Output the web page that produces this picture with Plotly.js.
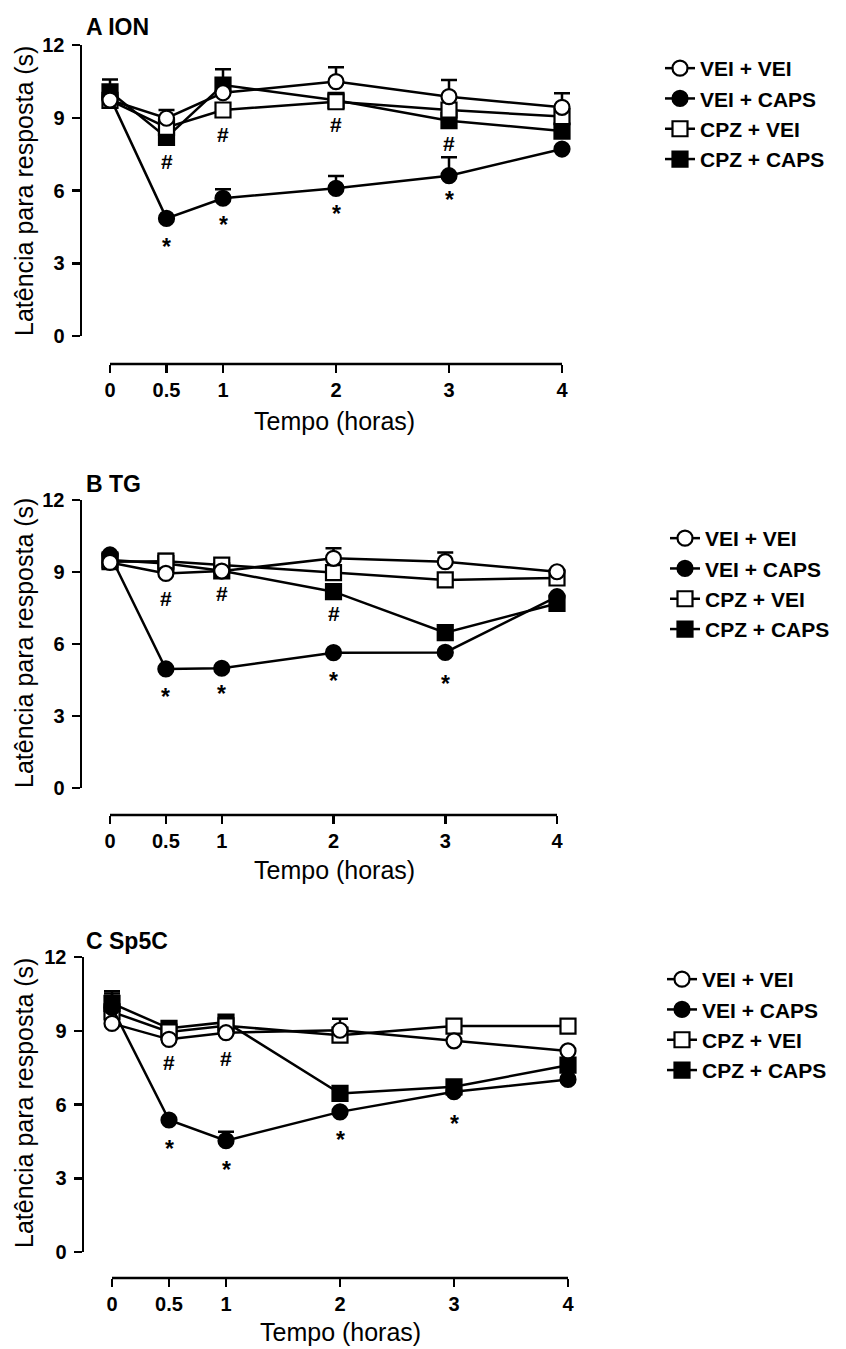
<!DOCTYPE html>
<html>
<head>
<meta charset="utf-8">
<script src="https://cdn.plot.ly/plotly-3.0.1.min.js"></script>
<style>html,body{margin:0;padding:0;background:#fff;}#chart{width:846px;height:1349px;}</style>
</head>
<body>
<div id="chart"></div>
<script>
// ---------- DATA ----------
const times = [0, 0.5, 1, 2, 3, 4];
const tickLabels = ['0', '0.5', '1', '2', '3', '4'];
const yTicks = [0, 3, 6, 9, 12];
const seriesNames = ['VEI + VEI', 'VEI + CAPS', 'CPZ + VEI', 'CPZ + CAPS'];
const panelTitles = ['A ION', 'B TG', 'C Sp5C'];
const xTitle = 'Tempo (horas)';
const yTitle = 'Latência para resposta (s)';

// Panel A - ION
const ionVeiVei = [9.73, 8.98, 10.03, 10.49, 9.87, 9.43];
const ionVeiVeiErr = [0, 0.34, 0, 0.59, 0.69, 0.58];
const ionVeiCaps = [9.85, 4.85, 5.68, 6.09, 6.61, 7.71];
const ionVeiCapsErr = [0, 0, 0.37, 0.51, 0.76, 0];
const ionCpzVei = [9.72, 8.6, 9.32, 9.66, 9.32, 9.05];
const ionCpzVeiErr = [0, 0, 0, 0, 0, 0];
const ionCpzCaps = [10.07, 8.19, 10.35, 9.72, 8.88, 8.45];
const ionCpzCapsErr = [0.51, 0, 0.65, 0, 0, 0];
const ionHashX = [0.5, 1, 2, 3];
const ionHashY = [7.26, 8.38, 8.8, 8.01];
const ionStarX = [0.5, 1, 2, 3];
const ionStarY = [3.93, 4.81, 5.26, 5.86];

// Panel B - TG
const tgVeiVei = [9.4, 8.94, 9.04, 9.57, 9.43, 9.01];
const tgVeiVeiErr = [0, 0, 0, 0.42, 0.38, 0];
const tgVeiCaps = [9.71, 4.96, 4.99, 5.64, 5.65, 7.97];
const tgVeiCapsErr = [0, 0, 0, 0, 0, 0];
const tgCpzVei = [9.43, 9.45, 9.29, 8.97, 8.67, 8.75];
const tgCpzVeiErr = [0, 0.3, 0, 0, 0, 0];
const tgCpzCaps = [9.5, 9.35, 9.05, 8.18, 6.47, 7.69];
const tgCpzCapsErr = [0, 0, 0, 0, 0, 0];
const tgHashX = [0.5, 1, 2];
const tgHashY = [7.97, 8.18, 7.35];
const tgStarX = [0.5, 1, 2, 3];
const tgStarY = [4.05, 4.15, 4.71, 4.57];

// Panel C - Sp5C
const spVeiVei = [9.3, 8.65, 8.92, 9.02, 8.59, 8.18];
const spVeiVeiErr = [0, 0, 0, 0.47, 0, 0];
const spVeiCaps = [9.95, 5.37, 4.53, 5.7, 6.52, 7.02];
const spVeiCapsErr = [0, 0, 0.36, 0, 0, 0];
const spCpzVei = [9.77, 8.95, 9.2, 8.82, 9.19, 9.19];
const spCpzVeiErr = [0.75, 0, 0, 0, 0, 0];
const spCpzCaps = [10.11, 9.1, 9.35, 6.45, 6.72, 7.6];
const spCpzCapsErr = [0.5, 0, 0.15, 0, 0, 0];
const spHashX = [0.5, 1];
const spHashY = [7.8, 7.94];
const spStarX = [0.5, 1, 2, 3];
const spStarY = [4.42, 3.6, 4.82, 5.46];

// ---------- LAYOUT HELPERS ----------
const W = 846, H = 1349;
const FONT = 'Liberation Sans, Arial, Helvetica, sans-serif';
const fx = px => px / W;
const fy = py => 1 - py / H;

const panels = [
  {series: [ionVeiVei, ionVeiCaps, ionCpzVei, ionCpzCaps], errs: [ionVeiVeiErr, ionVeiCapsErr, ionCpzVeiErr, ionCpzCapsErr],
   hashX: ionHashX, hashY: ionHashY, starX: ionStarX, starY: ionStarY,
   px: {yAx: 82, x0: 110, x4: 562, top: 45, bot: 336, xLine: 364, title: 27, xTitle: 421, xTitleX: 334, yTitle: 191, leg: 67, legX: 660}},
  {series: [tgVeiVei, tgVeiCaps, tgCpzVei, tgCpzCaps], errs: [tgVeiVeiErr, tgVeiCapsErr, tgCpzVeiErr, tgCpzCapsErr],
   hashX: tgHashX, hashY: tgHashY, starX: tgStarX, starY: tgStarY,
   px: {yAx: 82, x0: 110, x4: 557, top: 500, bot: 788, xLine: 815, title: 484, xTitle: 870, xTitleX: 334, yTitle: 643, leg: 537, legX: 665}},
  {series: [spVeiVei, spVeiCaps, spCpzVei, spCpzCaps], errs: [spVeiVeiErr, spVeiCapsErr, spCpzVeiErr, spCpzCapsErr],
   hashX: spHashX, hashY: spHashY, starX: spStarX, starY: spStarY,
   px: {yAx: 84, x0: 112, x4: 568, top: 957, bot: 1252, xLine: 1278, title: 941, xTitle: 1332, xTitleX: 340, yTitle: 1103, leg: 978, legX: 662}}
];

const styles = [
  {symbol: 'circle', fill: '#ffffff', rank: 1},
  {symbol: 'circle', fill: '#000000', rank: 2},
  {symbol: 'square', fill: '#ffffff', rank: 3},
  {symbol: 'square', fill: '#000000', rank: 4}
];
// draw order (bottom to top)
const drawOrder = [3, 2, 1, 0];

const traces = [];
const layout = {
  width: W, height: H,
  margin: {l: 0, r: 0, t: 0, b: 0},
  paper_bgcolor: '#fff', plot_bgcolor: 'rgba(0,0,0,0)',
  font: {family: FONT, color: '#000'},
  showlegend: true,
  annotations: [], shapes: []
};

panels.forEach((p, i) => {
  const n = i === 0 ? '' : String(i + 1);
  const xa = 'x' + n, ya = 'y' + n;
  const legName = 'legend' + n;
  const P = p.px;
  const unit = (P.x4 - P.x0) / 4;
  const xLeft = (P.yAx - P.x0) / unit;
  const xRight = 4 + 12 / unit;

  drawOrder.forEach(k => {
    const st = styles[k];
    traces.push({
      type: 'scatter', mode: 'lines+markers',
      x: times, y: p.series[k],
      name: seriesNames[k],
      xaxis: xa, yaxis: ya,
      legend: legName, legendrank: st.rank,
      cliponaxis: false,
      line: {color: '#000', width: 2.5},
      marker: {symbol: st.symbol, size: 15, color: st.fill, line: {color: '#000', width: 2.2}},
      error_y: {type: 'data', symmetric: false,
        array: p.errs[k].map(e => e > 0 ? e : NaN),
        arrayminus: p.errs[k].map(() => 0),
        color: '#000', thickness: 2.5, width: 8},
      hoverinfo: 'skip'
    });
  });

  layout['xaxis' + n] = {
    domain: [fx(P.yAx), fx(P.x4 + 12)],
    range: [xLeft, xRight],
    anchor: 'free', position: fy(P.xLine),
    showline: false, zeroline: false, showgrid: false,
    ticks: 'outside', ticklen: 8, tickwidth: 2.5, tickcolor: '#000',
    tickmode: 'array', tickvals: times, ticktext: tickLabels,
    tickfont: {family: FONT, size: 20, weight: 'bold', color: '#000'},
    fixedrange: true
  };
  layout['yaxis' + n] = {
    domain: [fy(P.bot), fy(P.top)],
    range: [0, 12],
    anchor: xa,
    showline: true, linewidth: 2.5, linecolor: '#000',
    zeroline: false, showgrid: false,
    ticks: 'outside', ticklen: 8, tickwidth: 2.5, tickcolor: '#000',
    tickmode: 'array', tickvals: yTicks,
    tickfont: {family: FONT, size: 20, weight: 'bold', color: '#000'},
    ticklabelstandoff: 3,
    fixedrange: true
  };
  layout[legName] = {
    x: fx(P.legX), y: fy(P.leg - 19), xanchor: 'left', yanchor: 'top',
    bgcolor: 'rgba(0,0,0,0)', borderwidth: 0,
    font: {family: FONT, size: 21, weight: 'bold', color: '#000'},
    traceorder: 'normal', itemclick: false, itemdoubleclick: false
  };

  // x axis line between 0 and 4 (offset axis style)
  layout.shapes.push({type: 'line', xref: xa, yref: 'paper', x0: 0, x1: 4,
    y0: fy(P.xLine), y1: fy(P.xLine), line: {color: '#000', width: 2.5}});

  // panel title
  layout.annotations.push({text: '<b>' + panelTitles[i] + '</b>', xref: 'paper', yref: 'paper',
    x: fx(84), y: fy(P.title), xanchor: 'left', yanchor: 'middle', showarrow: false,
    font: {family: FONT, size: 23, color: '#000'}});
  // axis titles
  layout.annotations.push({text: xTitle, xref: 'paper', yref: 'paper',
    x: fx(P.xTitleX), y: fy(P.xTitle), xanchor: 'center', yanchor: 'middle', showarrow: false,
    font: {family: FONT, size: 25, color: '#000'}});
  layout.annotations.push({text: yTitle, xref: 'paper', yref: 'paper', textangle: -90,
    x: fx(24), y: fy(P.yTitle), xanchor: 'center', yanchor: 'middle', showarrow: false,
    font: {family: FONT, size: 25, color: '#000'}});

  // significance marks
  p.hashX.forEach((hx, j) => layout.annotations.push({text: '<b>#</b>', xref: xa, yref: ya,
    x: hx, y: p.hashY[j], yshift: -2, showarrow: false, xanchor: 'center', yanchor: 'middle',
    font: {family: FONT, size: 21, color: '#000'}}));
  p.starX.forEach((sx, j) => layout.annotations.push({text: '<b>*</b>', xref: xa, yref: ya,
    x: sx, y: p.starY[j], yshift: -6, showarrow: false, xanchor: 'center', yanchor: 'middle',
    font: {family: FONT, size: 23, color: '#000'}}));
});

Plotly.newPlot('chart', traces, layout, {displayModeBar: false, staticPlot: true});
</script>
</body>
</html>
